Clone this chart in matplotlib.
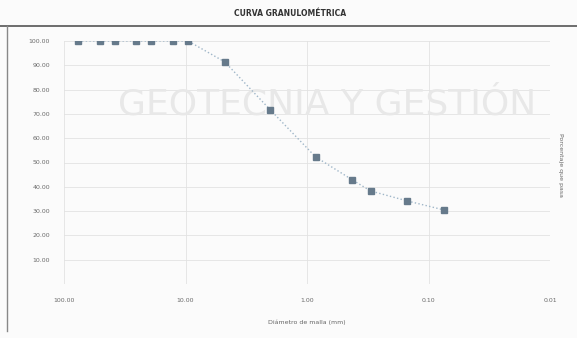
import matplotlib.pyplot as plt
from matplotlib.lines import Line2D

# tamiz (mm) y porcentaje que pasa
diametro = [76.2, 50.8, 38.1, 25.4, 19.05, 12.7, 9.525, 4.75, 2.00, 0.85, 0.425, 0.30, 0.15, 0.075]
pasa = [100.0, 100.0, 100.0, 100.0, 100.0, 100.0, 100.0, 91.4, 71.6, 52.3, 42.9, 38.3, 34.2, 30.5]

y_ticks = [10, 20, 30, 40, 50, 60, 70, 80, 90, 100]
x_ticks = [100, 10, 1, 0.1, 0.01]

fig = plt.figure(figsize=(5.77, 3.38), dpi=100)
fig.patch.set_facecolor('#fbfbfb')

# marco del documento
fig.add_artist(Line2D([0, 1], [1 - 26/338, 1 - 26/338], color='#555555', lw=1.2))
fig.add_artist(Line2D([7/577, 7/577], [1 - 26/338, 0.02], color='#888888', lw=1.0))
fig.text(0.503, 1 - 13/338, 'CURVA GRANULOMÉTRICA', ha='center', va='center',
         fontsize=5.5, fontweight='bold', color='#333333')

ax = fig.add_axes([64/577, 1 - 284/338, (550 - 64)/577, (284 - 41)/338])
ax.set_facecolor('#fbfbfb')

# marca de agua (detras de la curva)
ax.text(118/577, 1 - 105/338, 'GEOTECNIA Y GESTIÓN', transform=fig.transFigure,
        fontsize=26, color='#e8e8e8', ha='left', va='center', zorder=1, clip_on=False)

ax.plot(diametro, pasa, linestyle=':', color='#9fb6c8', lw=1.0,
        marker='s', markersize=4, markerfacecolor='#667a8b',
        markeredgecolor='#667a8b', zorder=3)

ax.set_xscale('log')
ax.set_xlim(100, 0.01)
ax.set_ylim(0, 100)
ax.set_xticks(x_ticks)
ax.set_xticklabels(['100.00', '10.00', '1.00', '0.10', '0.01'])
ax.set_yticks(y_ticks)
ax.set_yticklabels([f'{v:.2f}' for v in y_ticks])
ax.minorticks_off()
ax.tick_params(labelsize=4.5, colors='#6a6a6a', length=0, pad=10)

ax.grid(True, axis='y', color='#e2e2e2', lw=0.6)
ax.grid(True, axis='x', color='#e2e2e2', lw=0.6)
ax.set_axisbelow(True)
for s in ax.spines.values():
    s.set_visible(False)

ax.set_xlabel('Diámetro de malla (mm)', fontsize=4.5, color='#666666', labelpad=12)
fig.text(560/577, 1 - 165/338, 'Porcentaje que pasa', rotation=270, ha='center',
         va='center', fontsize=4.5, color='#666666')

fig.savefig('out.png', dpi=100, facecolor=fig.get_facecolor())
